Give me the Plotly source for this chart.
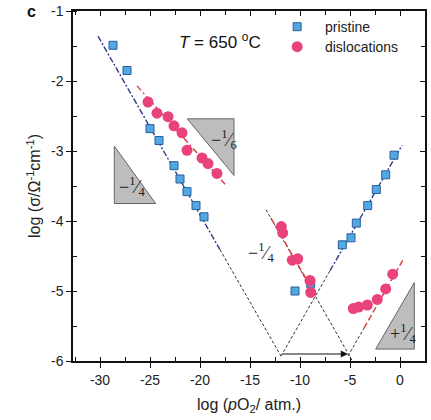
import plotly.graph_objects as go

# ---- data ----
pristine_x = [-28.7, -27.3, -25.0, -24.1, -22.6, -22.0, -21.3, -20.4, -19.6,
              -10.5, -8.93, -5.77, -4.9, -4.37, -3.23, -2.37, -1.43, -0.6]
pristine_y = [-1.49, -1.85, -2.68, -2.85, -3.21, -3.40, -3.58, -3.78, -3.94,
              -5.00, -4.89, -4.34, -4.24, -4.03, -3.78, -3.55, -3.34, -3.06]

disl_x = [-25.2, -24.3, -23.2, -22.6, -21.8, -21.3, -19.8, -19.2, -18.3,
          -11.87, -11.73, -10.77, -10.23, -9.0, -8.93,
          -4.67, -4.13, -3.27, -2.27, -1.43, -0.73]
disl_y = [-2.30, -2.46, -2.51, -2.64, -2.74, -2.99, -3.10, -3.18, -3.32,
          -4.08, -4.17, -4.56, -4.54, -4.85, -5.02,
          -5.25, -5.23, -5.20, -5.12, -4.97, -4.76]

# fitted lines (end points)
fit_blue_left_x = [-30.2, -18.0]
fit_blue_left_y = [-1.36, -4.41]
fit_blue_right_x = [-7.0, 0.2]
fit_blue_right_y = [-4.71, -2.92]
fit_red_top_x = [-26.3, -17.4]
fit_red_top_y = [-2.07, -3.49]
fit_red_mid_x = [-12.9, -8.4]
fit_red_mid_y = [-3.96, -5.07]
fit_red_right_x = [-3.6, 0.4]
fit_red_right_y = [-5.53, -4.53]

# extrapolations (black dotted)
ext_a_x = [-18.0, -11.9]
ext_a_y = [-4.41, -5.93]
ext_b_x = [-13.4, -4.8]
ext_b_y = [-3.84, -5.99]
ext_c_x = [-11.9, -7.0]
ext_c_y = [-5.93, -4.71]
ext_d_x = [-5.2, -3.6]
ext_d_y = [-5.93, -5.53]

arrow_x = [-11.9, -5.2]
arrow_y = -5.9

x_ticks = [-30, -25, -20, -15, -10, -5, 0]
x_labels = ["-30", "-25", "-20", "-15", "-10", "-5", "0"]
y_ticks = [-1, -2, -3, -4, -5, -6]
y_labels = ["-1", "-2", "-3", "-4", "-5", "-6"]

FONT = "Liberation Sans, Arial, sans-serif"
SERIF = "Liberation Serif, Times New Roman, serif"
RED = "#E8437A"
NAVY = "#2E3C8C"

fig = go.Figure()

def line(xs, ys, color, dash, width=1.6):
    fig.add_trace(go.Scatter(x=xs, y=ys, mode="lines", showlegend=False,
                             line=dict(color=color, dash=dash, width=width),
                             hoverinfo="skip"))

for xs, ys in [(ext_a_x, ext_a_y), (ext_b_x, ext_b_y), (ext_c_x, ext_c_y), (ext_d_x, ext_d_y)]:
    line(xs, ys, "#333333", "3px,2px", 1)

line(fit_blue_left_x, fit_blue_left_y, NAVY, "6px,2px,2px,2px", 1.4)
line(fit_blue_right_x, fit_blue_right_y, NAVY, "6px,2px,2px,2px", 1.4)
line(fit_red_top_x, fit_red_top_y, "#E03838", "6px,3px,2px,3px", 1.4)
line(fit_red_mid_x, fit_red_mid_y, "#E03838", "6px,3px", 1.4)
line(fit_red_right_x, fit_red_right_y, "#E03838", "6px,3px", 1.4)

fig.add_trace(go.Scatter(x=pristine_x, y=pristine_y, mode="markers",
                         name="\u00a0\u00a0pristine", legend="legend",
                         marker=dict(symbol="square", size=8, color="#52A8E0",
                                     line=dict(color="#2B5C9E", width=1))))
fig.add_trace(go.Scatter(x=disl_x, y=disl_y, mode="markers",
                         name="\u00a0\u00a0dislocations", legend="legend2",
                         marker=dict(symbol="circle", size=11, color=RED,
                                     line=dict(width=0))))

# slope triangles
tri_style = dict(type="path", xref="x", yref="y", fillcolor="#BDBDBD",
                 line=dict(color="#666666", width=1), layer="below")
fig.add_shape(path="M -28.57 -2.93 L -28.57 -3.75 L -24.43 -3.75 Z", **tri_style)
fig.add_shape(path="M -21.27 -2.54 L -16.6 -2.54 L -16.6 -3.35 Z", **tri_style)
fig.add_shape(path="M 1.43 -4.88 L 1.43 -5.83 L -2.43 -5.83 Z", **tri_style)

FR = dict(family=SERIF, size=18, color="#222")
fig.add_annotation(x=-26.8, y=-3.5, text="−<sup>1</sup>⁄<sub>4</sub>", showarrow=False, font=FR)
fig.add_annotation(x=-17.6, y=-2.84, text="−<sup>1</sup>⁄<sub>6</sub>", showarrow=False, font=FR)
fig.add_annotation(x=0.3, y=-5.6, text="+<sup>1</sup>⁄<sub>4</sub>", showarrow=False, font=FR)
fig.add_annotation(x=-13.9, y=-4.45, text="−<sup>1</sup>⁄<sub>4</sub>", showarrow=False, font=FR)

# arrow
fig.add_annotation(x=arrow_x[1], y=arrow_y, ax=arrow_x[0], ay=arrow_y,
                   xref="x", yref="y", axref="x", ayref="y", text="",
                   showarrow=True, arrowhead=2, arrowsize=1.2, arrowwidth=1.2,
                   arrowcolor="#111111")

fig.add_annotation(x=-18.0, y=-1.43, xref="x", yref="y", showarrow=False,
                   text="<i>T</i> = 650 <sup>o</sup>C",
                   font=dict(family=FONT, size=17, color="#111"))
fig.add_annotation(x=-0.135, y=1.0, xref="paper", yref="paper", xanchor="left",
                   yanchor="middle", showarrow=False, text="<b>c</b>",
                   font=dict(family=FONT, size=16, color="#111"))

axis_common = dict(showline=True, linecolor="#111", linewidth=1.5, showgrid=False,
                   zeroline=False, tickcolor="#111", tickwidth=1.2, automargin=False,
                   tickfont=dict(family=FONT, size=14, color="#222"))

leg_common = dict(xanchor="left", yanchor="middle", bgcolor="rgba(0,0,0,0)",
                  font=dict(family=FONT, size=14, color="#222"), itemwidth=30)

fig.update_layout(
    width=431, height=420,
    margin=dict(l=73, r=6, t=11, b=59, autoexpand=False),
    plot_bgcolor="white", paper_bgcolor="white",
    font=dict(family=FONT, size=14, color="#222"),
    xaxis=dict(range=[-32.7, 2.5], tickvals=x_ticks, ticktext=x_labels,
               ticks="outside", ticklen=5,
               minor=dict(dtick=2.5, tick0=0, ticks="inside", ticklen=4, tickcolor="#111"),
               title=dict(text="log (<i>p</i>O<sub>2</sub>/ atm.)", font=dict(size=16), standoff=12),
               mirror=True, **axis_common),
    yaxis=dict(range=[-6, -1], tickvals=y_ticks, ticktext=y_labels,
               ticks="outside", ticklen=5,
               minor=dict(dtick=0.5, tick0=0, ticks="inside", ticklen=4, tickcolor="#111"),
               title=dict(text="log (σ/Ω<sup>-1</sup>cm<sup>-1</sup>)", font=dict(size=16), standoff=6),
               mirror=True, **axis_common),
    xaxis2=dict(range=[-32.7, 2.5], overlaying="x", side="top", tickvals=x_ticks,
                ticks="inside", ticklen=5, showticklabels=False, automargin=False,
                minor=dict(dtick=2.5, tick0=0, ticks="inside", ticklen=4, tickcolor="#111"),
                showline=False, showgrid=False, zeroline=False, tickcolor="#111", tickwidth=1.2),
    yaxis2=dict(range=[-6, -1], overlaying="y", side="right", tickvals=y_ticks,
                ticks="inside", ticklen=5, showticklabels=False, automargin=False,
                minor=dict(dtick=0.5, tick0=0, ticks="inside", ticklen=4, tickcolor="#111"),
                showline=False, showgrid=False, zeroline=False, tickcolor="#111", tickwidth=1.2),
    legend=dict(x=0.58, y=0.954, **leg_common),
    legend2=dict(x=0.58, y=0.897, **leg_common),
)
# dummy trace to activate the mirror axes
fig.add_trace(go.Scatter(x=[None], y=[None], xaxis="x2", yaxis="y2", showlegend=False))

fig.write_html("out.html", config={"displayModeBar": False},
               post_script="document.body.style.margin='0px';")
